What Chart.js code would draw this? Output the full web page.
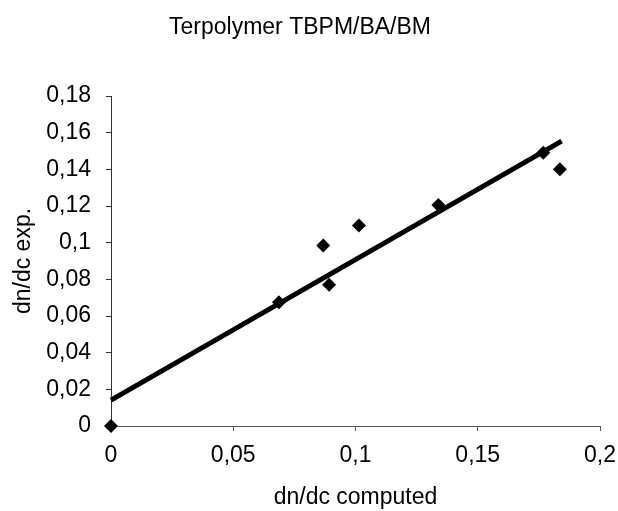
<!DOCTYPE html>
<html>
<head>
<meta charset="utf-8">
<script src="https://cdn.jsdelivr.net/npm/chart.js@4"></script>
<style>
  body { margin: 0; background: #fff; }
</style>
</head>
<body>
<canvas id="chart" width="618" height="511"></canvas>
<script>
// measured points (dn/dc computed vs dn/dc exp.)
const computed = [0, 0.0687, 0.0868, 0.0892, 0.1014, 0.1339, 0.1768, 0.1836];
const experimental = [0, 0.0675, 0.0985, 0.0771, 0.1093, 0.1206, 0.149, 0.140];
// fitted trend line end points
const trendX = [0, 0.1843];
const trendY = [0.0141, 0.1554];
const xTicks = [0, 0.05, 0.1, 0.15, 0.2];
const yTicks = [0, 0.02, 0.04, 0.06, 0.08, 0.1, 0.12, 0.14, 0.16, 0.18];

const font = { family: "'Liberation Sans', Arial, sans-serif", size: 23, weight: "normal" };
const comma = (v) => String(+v.toFixed(2)).replace(".", ",");

const ctx = document.getElementById("chart").getContext("2d");
new Chart(ctx, {
  type: "scatter",
  data: {
    datasets: [
      {
        label: "exp",
        data: computed.map((x, i) => ({ x: x, y: experimental[i] })),
        pointStyle: "rectRot",
        pointRadius: 7,
        backgroundColor: "#000",
        borderColor: "#000",
        borderWidth: 0,
        clip: false,
      },
      {
        label: "trend",
        data: trendX.map((x, i) => ({ x: x, y: trendY[i] })),
        showLine: true,
        pointRadius: 0,
        borderColor: "#000",
        borderWidth: 5,
        clip: false,
      },
    ],
  },
  options: {
    responsive: false,
    animation: false,
    layout: { padding: { left: 0, right: 18, top: 0, bottom: 0 } },
    plugins: {
      legend: { display: false },
      tooltip: { enabled: false },
      title: {
        display: true,
        text: "Terpolymer TBPM/BA/BM",
        color: "#000",
        font: font,
        padding: { top: 14, bottom: 54.4 },
      },
    },
    scales: {
      x: {
        type: "linear",
        min: 0,
        max: 0.2,
        afterBuildTicks: (s) => { s.ticks = xTicks.map((v) => ({ value: v })); },
        afterFit: (s) => { s.height = 85; s.paddingLeft = 0; s.paddingRight = 0; },
        ticks: { color: "#000", font: font, padding: 11, maxRotation: 0, callback: comma },
        border: { color: "#555", width: 1 },
        grid: { drawOnChartArea: false, tickLength: 5, color: "#555" },
        title: {
          display: true,
          text: "dn/dc computed",
          color: "#000",
          font: font,
          padding: { top: 0, bottom: 0 },
        },
      },
      y: {
        type: "linear",
        min: 0,
        max: 0.18,
        afterBuildTicks: (s) => { s.ticks = yTicks.map((v) => ({ value: v })); },
        afterFit: (s) => { s.width = 111; },
        ticks: { color: "#000", font: font, padding: 15, callback: comma },
        border: { color: "#333", width: 1 },
        grid: { drawOnChartArea: false, tickLength: 5, color: "#333" },
        title: {
          display: true,
          text: "dn/dc exp.",
          color: "#000",
          font: font,
          padding: { top: 10, bottom: 0 },
        },
      },
    },
  },
});
</script>
</body>
</html>
